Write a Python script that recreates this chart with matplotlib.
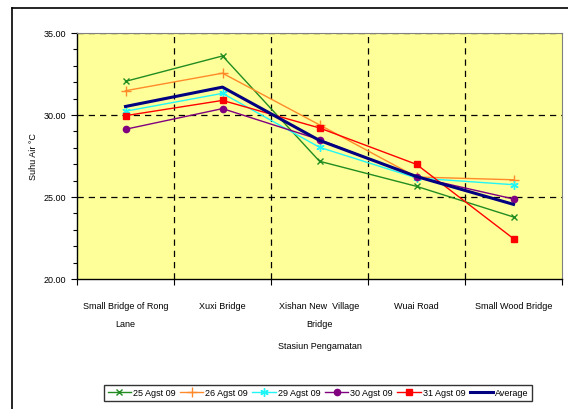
import matplotlib
matplotlib.use("Agg")
import matplotlib.pyplot as plt
from matplotlib.lines import Line2D
from matplotlib.ticker import MultipleLocator, FixedLocator, NullFormatter

plt.rcParams['font.family'] = ['Liberation Sans', 'DejaVu Sans']

stations = ["Small Bridge of Rong\nLane", "Xuxi Bridge", "Xishan New  Village\nBridge",
            "Wuai Road", "Small Wood Bridge"]
agst25 = [32.05, 33.60, 27.18, 25.65, 23.78]
agst26 = [31.48, 32.55, 29.40, 26.22, 26.05]
agst29 = [30.23, 31.32, 28.03, 26.16, 25.75]
agst30 = [29.13, 30.39, 28.50, 26.22, 24.88]
agst31 = [29.96, 30.89, 29.21, 26.99, 22.46]
average = [30.52, 31.70, 28.45, 26.25, 24.55]

W, H = 568, 410
fig = plt.figure(figsize=(W / 100, H / 100), dpi=100)

# outer chart-area frame (left and top edges)
fig.add_artist(Line2D([12 / W, 12 / W], [0, 1 - 9 / H], transform=fig.transFigure,
                      color='black', lw=1.2))
fig.add_artist(Line2D([12 / W, 1], [1 - 9 / H, 1 - 9 / H], transform=fig.transFigure,
                      color='black', lw=1.2))

ax = fig.add_axes([77 / W, 1 - 280 / H, (562 - 77) / W, (280 - 34) / H])
ax.set_facecolor('#ffff99')

x = list(range(len(stations)))
ax.plot(x, agst25, color='#218c21', lw=1.0, marker='x', ms=5, mew=1.0, label='25 Agst 09')
ax.plot(x, agst26, color='#ff8a2a', lw=1.0, marker='+', ms=7, mew=1.0, label='26 Agst 09')
ax.plot(x, agst29, color='#22f5f5', lw=1.0, marker=(6, 2, 0), ms=6, mew=1.0, label='29 Agst 09')
ax.plot(x, agst30, color='#800080', lw=1.0, marker='o', ms=4.5, label='30 Agst 09')
ax.plot(x, agst31, color='#ff0000', lw=1.0, marker='s', ms=5, label='31 Agst 09')
ax.plot(x, average, color='#000080', lw=2.2, label='Average')

ax.set_xlim(-0.5, 4.5)
ax.set_ylim(20, 35)

# dashed grid
for yv in (25, 30, 35):
    ax.axhline(yv, color='black', lw=0.9, ls=(0, (5, 4)), zorder=0.5)
for xv in (0.5, 1.5, 2.5, 3.5):
    ax.axvline(xv, color='black', lw=0.9, ls=(0, (5, 4)), zorder=0.5)

ax.yaxis.set_major_locator(MultipleLocator(5))
ax.yaxis.set_minor_locator(MultipleLocator(1))
ax.yaxis.set_major_formatter(plt.FuncFormatter(lambda v, p: f"{v:.2f}"))
ax.tick_params(axis='y', which='major', length=4, width=0.8, labelsize=6.5, pad=4)
ax.tick_params(axis='y', which='minor', length=3, width=0.8)

ax.set_xticks(x)
ax.set_xticklabels(stations, fontsize=6.5, linespacing=2.3)
ax.tick_params(axis='x', which='major', length=0, pad=16)
ax.xaxis.set_minor_locator(FixedLocator([-0.5, 0.5, 1.5, 2.5, 3.5, 4.5]))
ax.xaxis.set_minor_formatter(NullFormatter())
ax.tick_params(axis='x', which='minor', length=4, width=0.8)

for s in ('left', 'bottom'):
    ax.spines[s].set_color('black')
    ax.spines[s].set_linewidth(1.0)
for s in ('top', 'right'):
    ax.spines[s].set_color('#808080')
    ax.spines[s].set_linewidth(0.8)

ax.set_ylabel("Suhu Air °C", fontsize=6.5, labelpad=4)
ax.set_xlabel("Stasiun Pengamatan", fontsize=6.5, labelpad=9)

leg = fig.legend(loc='center', bbox_to_anchor=(318 / W, 1 - 394 / H), ncol=6,
                 fontsize=6.5, frameon=True, fancybox=False, edgecolor='black',
                 handlelength=2.6, handletextpad=0.2, columnspacing=0.5,
                 borderpad=0.4, borderaxespad=0)
leg.get_frame().set_linewidth(1.0)

fig.savefig("out.png", dpi=100)
